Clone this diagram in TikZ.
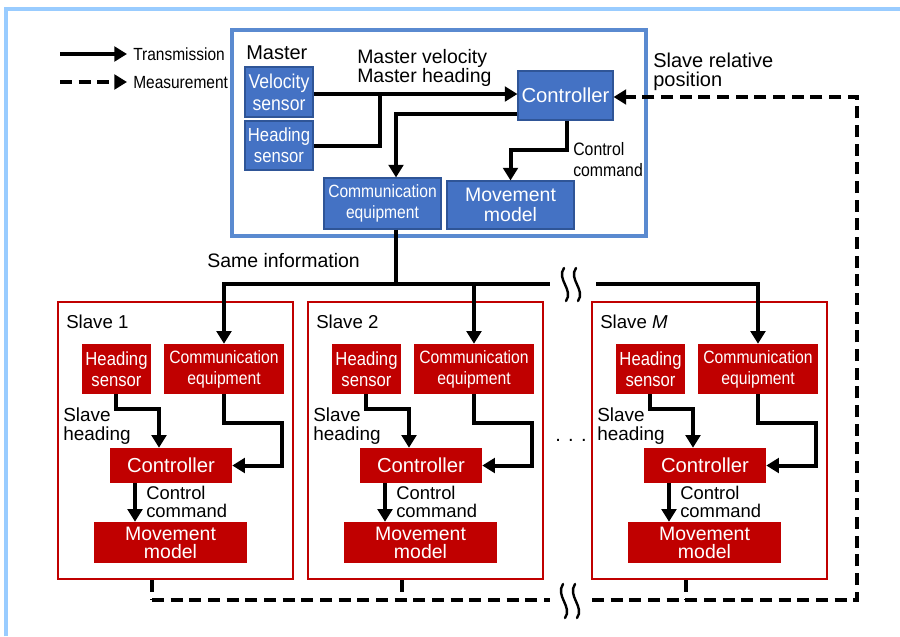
\documentclass[tikz,border=0pt]{standalone}
\usepackage{fontspec}
\setmainfont{Liberation Sans}
\newfontfamily\cf[FakeStretch=0.88]{Liberation Sans}
\usetikzlibrary{arrows.meta}
\definecolor{mblue}{HTML}{4472C4}
\definecolor{mblueedge}{HTML}{2F5597}
\definecolor{mframe}{HTML}{5A8AD0}
\definecolor{outerframe}{HTML}{99CCFF}
\definecolor{sred}{HTML}{C00000}
\newcommand\fs[2]{\fontsize{#1}{#2}\selectfont}
\newcommand\bx[7]{%
  \pgfmathsetmacro\cx{((#2)+(#4))/2}\pgfmathsetmacro\cy{((#3)+(#5))/2}%
  \pgfmathsetmacro\ww{((#4)-(#2))*0.75}\pgfmathsetmacro\hh{((#5)-(#3))*0.75}%
  \node[#6,minimum width=\ww pt,minimum height=\hh pt] (#1) at (\cx,\cy) {#7};}
\begin{document}
\begin{tikzpicture}[x=0.75pt,y=-0.75pt,
  lbl/.style={inner sep=0pt,align=left,text=black},
  bbox/.style={fill=mblue,draw=mblueedge,line width=0.8pt,text=white,inner sep=0pt,align=center},
  rbox/.style={fill=sred,draw=none,text=white,inner sep=0pt,align=center},
  mfr/.style={draw=mframe,line width=2.4pt,inner sep=0pt},
  sfr/.style={draw=sred,line width=1.6pt,inner sep=0pt},
  ln/.style={line width=3pt,line join=miter},
  tr/.style={ln,-{Triangle[length=9.5pt,width=11pt]}},
  ms/.style={line width=3pt,dash pattern=on 9pt off 5pt},
  mstr/.style={ms,-{Triangle[length=9.5pt,width=11pt]}},
  sq/.style={line width=1.8pt,line cap=round}]
\useasboundingbox (0,0) rectangle (900,636);
% outer frame
\draw[outerframe,line width=2.4pt] (6,636) -- (6,9) -- (900,9);

% legend
\coordinate (lg1a) at (60,54); \coordinate (lg1b) at (127,54);
\coordinate (lg2a) at (60,82); \coordinate (lg2b) at (127,82);
\draw[tr] (lg1a) -- (lg1b);
\draw[mstr] (lg2a) -- (lg2b);
\node[lbl,anchor=base west,font=\cf\fs{13.2}{15}] (lgt1) at (133,60) {Transmission};
\node[lbl,anchor=base west,font=\cf\fs{13.2}{15}] (lgt2) at (133,88) {Measurement};

% master
\bx{mf}{232}{30}{646}{236}{mfr}{}
\node[lbl,anchor=base west,font=\fs{15}{15}] (mlab) at (246,59) {Master};
\bx{vs}{245}{67}{313}{117}{bbox,font=\cf\fs{15}{16.5}}{Velocity\\sensor}
\bx{hs}{245}{121}{313}{170}{bbox,font=\cf\fs{14.2}{15.75}}{Heading\\sensor}
\bx{mc}{518}{71}{613}{120}{bbox,font=\fs{15.2}{16}}{Controller}
\bx{mce}{324}{178}{441}{229}{bbox,font=\cf\fs{13.3}{15.75}}{Communication\\equipment}
\bx{mm}{447}{181}{574}{229}{bbox,font=\fs{14.6}{15}}{Movement\\model}
\node[lbl,anchor=base west,font=\fs{14.6}{14.25}] (mvh) at (357,82) {Master velocity\\Master heading};
\node[lbl,anchor=base west,font=\cf\fs{13.5}{15.75}] (mcc) at (573,176) {Control\\command};
\node[lbl,anchor=base west,font=\fs{15}{14.25}] (srp) at (653,86) {Slave relative\\position};

\coordinate (j1) at (380,94);
\coordinate (j2) at (396,114);
\coordinate (j3) at (567,150);
\draw[tr] (vs.east |- j1) -- (j1 -| mc.west);
\draw[ln] (hs.east) -| (j1);
\draw[tr] (mc.west |- j2) -- (j2) -- (j2 |- mce.north);
\draw[tr] (mc.south -| j3) -- (j3) -| (mm.north);

% slaves
\foreach \o/\n/\lab in {0/1/1,250/2/2,534/M/\textit{M}}{
  \bx{s\n-box}{58+\o}{302}{293+\o}{579}{sfr}{}
  \node[lbl,anchor=base west,font=\fs{14}{14}] (s\n-lab) at (66+\o,328) {Slave \lab};
  \bx{s\n-hs}{82+\o}{344}{151+\o}{394}{rbox,font=\cf\fs{14.2}{15.75}}{Heading\\sensor}
  \bx{s\n-cm}{164+\o}{344}{284+\o}{394}{rbox,font=\cf\fs{13.4}{15.75}}{Communication\\equipment}
  \bx{s\n-ct}{110+\o}{448}{232+\o}{483}{rbox,font=\fs{15.2}{16}}{Controller}
  \bx{s\n-mv}{94+\o}{522}{247+\o}{563}{rbox,font=\fs{14.6}{13.5}}{Movement\\model}
  \node[lbl,anchor=base west,font=\fs{14.2}{14.25}] (s\n-shl) at (63+\o,440) {Slave\\heading};
  \node[lbl,anchor=base west,font=\fs{13.8}{13.5}] (s\n-ccl) at (146+\o,517) {Control\\command};
  \coordinate (s\n-a1) at (116+\o,409);
  \coordinate (s\n-a2) at (159+\o,409);
  \draw[tr] (s\n-hs.south -| s\n-a1) -- (s\n-a1) -- (s\n-a2) -- (s\n-a2 |- s\n-ct.north);
  \coordinate (s\n-b1) at (224+\o,423);
  \coordinate (s\n-b2) at (282+\o,423);
  \draw[tr] (s\n-cm.south) -- (s\n-b1) -- (s\n-b2) -- (s\n-b2 |- s\n-ct.east) -- (s\n-ct.east);
  \coordinate (s\n-c1) at (135+\o,500);
  \draw[tr] (s\n-ct.south -| s\n-c1) -- (s\n-mv.north -| s\n-c1);
  \coordinate (s\n-d) at (152+\o,600);
  \draw[ms] (s\n-box.south -| s\n-d) -- (s\n-d);
}

% broadcast
\coordinate (t0) at (396,284);
\coordinate (tbL) at (550,284);
\coordinate (tbR) at (596,284);
\draw[ln] (mce.south -| t0) -- (t0);
\draw[tr] (t0) -| (s1-cm.north);
\draw[tr] (t0) -| (s2-cm.north);
\draw[ln] (t0) -- (tbL);
\draw[tr] (tbR) -| (sM-cm.north);
\node[lbl,anchor=base west,font=\fs{14.6}{15}] (same) at (207,267) {Same information};

% measurement feedback
\coordinate (bL) at (550,600);
\coordinate (bR) at (592,600);
\coordinate (d2) at (857,600);
\coordinate (d1) at (857,97);
\draw[ms] (s1-d) -- (bL);
\draw[mstr] (bR) -- (d2) -- (d1) -- (d1 -| mc.east);

% breaks
\draw[sq] (564,268) .. controls (556,279) and (574,290) .. (566,301);
\draw[sq] (576,268) .. controls (568,279) and (586,290) .. (578,301);
\draw[sq] (563,584) .. controls (555,596) and (573,607) .. (565,618);
\draw[sq] (575,584) .. controls (567,596) and (585,607) .. (577,618);

% ellipsis
\node[lbl,anchor=base west,font=\fs{15}{15}] (dots) at (555,441) {. . .};
\end{tikzpicture}
\end{document}
